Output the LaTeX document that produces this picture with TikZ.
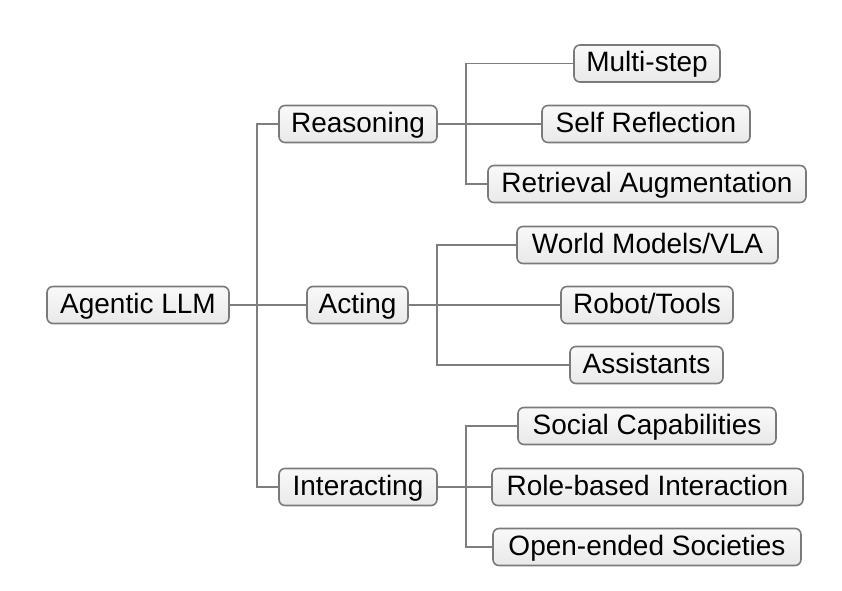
\documentclass[tikz,border=0pt]{standalone}
\usepackage{fontspec}
\setmainfont{Liberation Sans}
\begin{document}
\begin{tikzpicture}[x=1pt,y=-1pt,
  box/.style={draw=boxline, line width=1.6pt, rounded corners=6pt,
    top color=boxtop, bottom color=boxbot, minimum height=37pt,
    inner sep=0pt, text height=22pt, text depth=6pt,
    font=\fontsize{28}{32}\selectfont, text=black},
  link/.style={draw=linkc, line width=1.8pt}]
\definecolor{boxline}{HTML}{7A7A7A}
\definecolor{boxtop}{HTML}{F9F9F9}
\definecolor{boxbot}{HTML}{E9E9E9}
\definecolor{linkc}{HTML}{7E7E7E}
\useasboundingbox (0,0) rectangle (842,590);
\node[box, minimum width=182pt] (agentic) at (138,305) {Agentic LLM};
\node[box, minimum width=158pt] (reasoning) at (358,124) {Reasoning};
\node[box, minimum width=101pt] (acting) at (357.5,305) {Acting};
\node[box, minimum width=158pt] (interacting) at (358,487) {Interacting};
\node[box, minimum width=146pt] (multistep) at (647,63.5) {Multi-step};
\node[box, minimum width=208pt] (selfref) at (646,124) {Self Reflection};
\node[box, minimum width=318pt] (retrieval) at (647,184) {Retrieval Augmentation};
\node[box, minimum width=261pt] (world) at (647.5,245) {World Models/VLA};
\node[box, minimum width=172pt] (robot) at (647,305) {Robot/Tools};
\node[box, minimum width=153pt] (assist) at (646.5,365) {Assistants};
\node[box, minimum width=258pt] (social) at (647,426) {Social Capabilities};
\node[box, minimum width=311pt] (role) at (647.5,487) {Role-based Interaction};
\node[box, minimum width=308pt] (open) at (647,547) {Open-ended Societies};
% main trunk
\draw[link] (agentic.east) -- (acting.west);
\draw[link] (reasoning.west) -| ([xshift=27pt]agentic.east) |- (interacting.west);
% reasoning
\draw[link] (reasoning.east) -- (selfref.west);
\draw[link] (multistep.west) -| ([xshift=28pt]reasoning.east) |- (retrieval.west);
% acting
\draw[link] (acting.east) -- (robot.west);
\draw[link] (world.west) -| ([xshift=28pt]acting.east) |- (assist.west);
% interacting
\draw[link] (interacting.east) -- (role.west);
\draw[link] (social.west) -| ([xshift=28pt]interacting.east) |- (open.west);
\end{tikzpicture}
\end{document}
